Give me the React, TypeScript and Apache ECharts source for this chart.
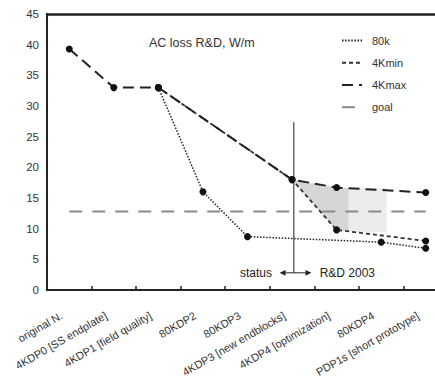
import React, { useEffect, useRef } from "react";
import * as echarts from "echarts";

const categories = [
  "original N.",
  "4KDP0 [SS endplate]",
  "4KDP1 [field quality]",
  "80KDP2",
  "80KDP3",
  "4KDP3 [new endblocks]",
  "4KDP4 [optimization]",
  "80KDP4",
  "PDP1s [short prototype]",
];
const values80k = [null, null, 33, 16, 8.7, null, null, 7.8, 6.8];
const values4Kmin = [null, null, 33, null, null, 18, 9.8, null, 8.0];
const values4Kmax = [39.3, 33, 33, null, null, 18, 16.7, null, 15.9];
const valuesGoal = [12.8, 12.8, 12.8, 12.8, 12.8, 12.8, 12.8, 12.8, 12.8];

// shaded regions, in (category index, value) coordinates
const darkShade = [[5, 18], [6, 16.7], [6.27, 16.6], [6.27, 9.6], [6, 9.8]];
const lightShade = [[6.27, 16.65], [7.12, 16.65], [7.12, 9.45], [6.27, 9.45]];

// status marker, in (category index, value) coordinates
const markerX = 5.04;
const markerTop = 27.4;
const arrowY = 2.8;
const arrowLeft = 4.72;
const arrowRight = 5.435;
const statusTextX = 4.55;
const rdTextX = 5.62;

const FONT = "'Liberation Sans', Arial, Helvetica, sans-serif";

export default function App() {
  const ref = useRef<HTMLDivElement>(null);
  useEffect(() => {
    document.body.style.margin = "0";
    const chart = echarts.init(ref.current!, null, { renderer: "svg" });

    const toPx = (api: any, x: number, y: number) => {
      let i = Math.floor(x);
      if (i > categories.length - 2) i = categories.length - 2;
      const f = x - i;
      const a = api.coord([i, y]);
      const b = api.coord([i + 1, y]);
      return [a[0] + f * (b[0] - a[0]), a[1]];
    };

    const option: any = {
      animation: false,
      textStyle: { fontFamily: FONT },
      title: {
        text: "AC loss R&D, W/m",
        left: 149,
        top: 36,
        padding: 0,
        textStyle: { fontSize: 12.5, fontWeight: "normal", color: "#333", fontFamily: FONT },
      },
      legend: {
        data: ["80k", "4Kmin", "4Kmax", "goal"],
        orient: "vertical",
        left: 341,
        top: 35,
        padding: 0,
        itemWidth: 20,
        itemHeight: 14,
        itemGap: 11,
        itemStyle: { opacity: 0 },
        textStyle: { fontSize: 11, color: "#333", fontFamily: FONT, padding: [0, 0, 0, 5] },
      },
      grid: {
        left: 47,
        top: 14,
        width: 401,
        height: 276,
        containLabel: false,
        outerBoundsMode: "none",
      },
      xAxis: [
        {
          type: "category",
          data: categories,
          boundaryGap: true,
          axisLine: { show: true, lineStyle: { color: "#222", width: 2 } },
          axisTick: { show: true, inside: true, length: 4, lineStyle: { color: "#222", width: 1.5 } },
          axisLabel: {
            interval: 0,
            rotate: 30,
            fontSize: 11,
            color: "#333",
            margin: 20,
            padding: [0, 9, 0, 0],
            fontFamily: FONT,
          },
          splitLine: { show: false },
        },
        {
          type: "category",
          data: categories,
          position: "top",
          axisLine: { show: true, lineStyle: { color: "#222", width: 2.5 } },
          axisTick: { show: false },
          axisLabel: { show: false },
          splitLine: { show: false },
        },
      ],
      yAxis: {
        type: "value",
        min: 0,
        max: 45,
        interval: 5,
        axisLine: { show: true, lineStyle: { color: "#222", width: 2 } },
        axisTick: { show: false },
        axisLabel: { fontSize: 11.5, color: "#333", margin: 8, fontFamily: FONT },
        splitLine: { show: false },
      },
      series: [
        {
          type: "custom",
          name: "shade",
          silent: true,
          z: 1,
          data: [[0, 0]],
          renderItem: (_p: any, api: any) => ({
            type: "group",
            children: [
              {
                type: "polygon",
                shape: { points: lightShade.map((p) => toPx(api, p[0], p[1])) },
                style: { fill: "#ececec" },
              },
              {
                type: "polygon",
                shape: { points: darkShade.map((p) => toPx(api, p[0], p[1])) },
                style: { fill: "#d6d6d6" },
              },
            ],
          }),
        },
        {
          type: "line",
          name: "goal",
          data: valuesGoal,
          symbol: "none",
          z: 2,
          lineStyle: { color: "#8a8a8a", width: 2, type: [13, 10] },
          itemStyle: { color: "#8a8a8a" },
        },
        {
          type: "custom",
          name: "marker",
          silent: true,
          z: 3,
          data: [[0, 0]],
          renderItem: (_p: any, api: any) => {
            const top = toPx(api, markerX, markerTop);
            const bot = toPx(api, markerX, arrowY);
            const l = toPx(api, arrowLeft, arrowY);
            const r = toPx(api, arrowRight, arrowY);
            const st = toPx(api, statusTextX, arrowY);
            const rd = toPx(api, rdTextX, arrowY);
            const ah = 6;
            const hw = 2.8;
            return {
              type: "group",
              children: [
                { type: "line", shape: { x1: top[0], y1: top[1], x2: bot[0], y2: bot[1] }, style: { stroke: "#222", lineWidth: 1 } },
                { type: "line", shape: { x1: l[0] + ah, y1: l[1], x2: r[0] - ah, y2: r[1] }, style: { stroke: "#222", lineWidth: 1 } },
                { type: "polygon", shape: { points: [[l[0], l[1]], [l[0] + ah, l[1] - hw], [l[0] + ah, l[1] + hw]] }, style: { fill: "#222" } },
                { type: "polygon", shape: { points: [[r[0], r[1]], [r[0] - ah, r[1] - hw], [r[0] - ah, r[1] + hw]] }, style: { fill: "#222" } },
                { type: "text", x: st[0], y: st[1], style: { text: "status", align: "right", verticalAlign: "middle", fontSize: 12, fill: "#222", fontFamily: FONT } },
                { type: "text", x: rd[0], y: rd[1], style: { text: "R&D 2003", align: "left", verticalAlign: "middle", fontSize: 12, fill: "#222", fontFamily: FONT } },
              ],
            };
          },
        },
        {
          type: "line",
          name: "80k",
          data: values80k,
          connectNulls: true,
          symbol: "circle",
          symbolSize: 7,
          z: 4,
          lineStyle: { color: "#222", width: 1.5, type: [1.5, 1.6] },
          itemStyle: { color: "#111" },
        },
        {
          type: "line",
          name: "4Kmin",
          data: values4Kmin,
          connectNulls: true,
          symbol: "circle",
          symbolSize: 7,
          z: 5,
          lineStyle: { color: "#333", width: 1.8, type: [4, 3] },
          itemStyle: { color: "#111" },
        },
        {
          type: "line",
          name: "4Kmax",
          data: values4Kmax,
          connectNulls: true,
          symbol: "circle",
          symbolSize: 7,
          z: 6,
          lineStyle: { color: "#222", width: 2, type: [11, 6] },
          itemStyle: { color: "#111" },
        },
      ],
    };
    chart.setOption(option);
    return () => chart.dispose();
  }, []);
  return <div ref={ref} style={{ width: 435, height: 382 }} />;
}
